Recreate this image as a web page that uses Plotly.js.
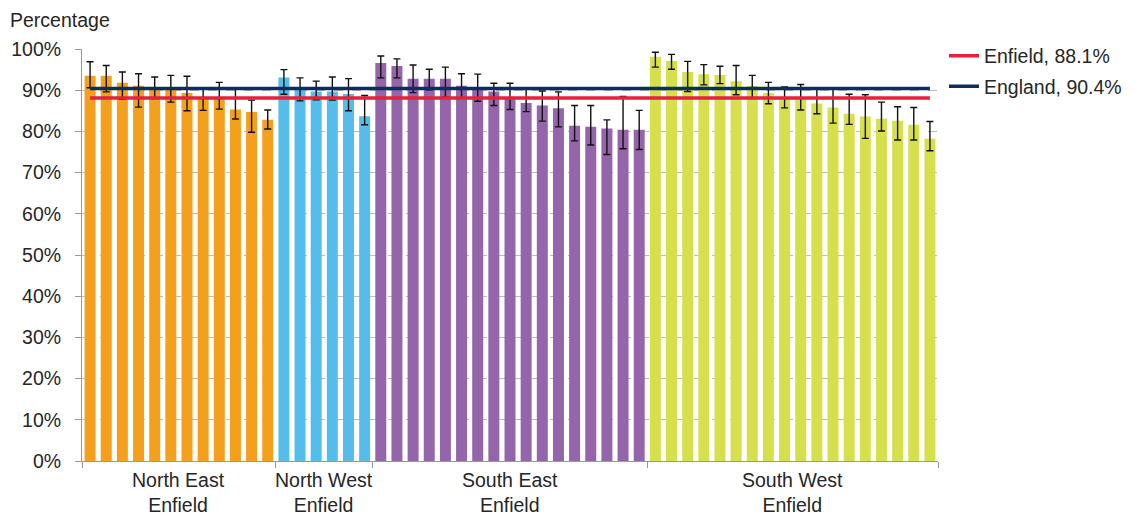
<!DOCTYPE html>
<html><head><meta charset="utf-8">
<script src="https://cdn.plot.ly/plotly-3.0.1.min.js"></script>
<style>html,body{margin:0;padding:0;background:#fff}#chart{width:1139px;height:515px}</style>
</head><body><div id="chart"></div>
<script>
// ---- data ----
const groupLabels = ["North East<br>Enfield", "North West<br>Enfield", "South East<br>Enfield", "South West<br>Enfield"];
const groupColors = ["#F5A01C", "#56BDEA", "#9565AB", "#D6E04D"];

const neValues = [93.5, 93.5, 91.8, 91.1, 90.3, 90.3, 89.3, 88.0, 88.0, 85.3, 84.7, 82.8];
const neUpper  = [96.9, 96.0, 94.4, 94.0, 93.2, 93.6, 93.4, 90.5, 91.9, 90.4, 87.6, 85.2];
const neLower  = [90.6, 89.6, 87.8, 85.9, 88.0, 87.1, 85.0, 85.1, 85.4, 83.0, 79.8, 80.6];

const nwValues = [93.1, 90.5, 89.7, 89.7, 89.1, 83.7];
const nwUpper  = [95.0, 93.0, 92.2, 93.2, 92.8, 88.7];
const nwLower  = [89.0, 87.4, 87.7, 87.6, 85.0, 81.6];

const seValues = [96.6, 95.9, 92.8, 92.8, 92.8, 91.1, 90.4, 89.7, 88.0, 86.9, 86.3, 85.6, 81.4, 81.1, 80.7, 80.4, 80.4];
const seUpper  = [98.3, 97.6, 96.1, 95.1, 95.6, 94.0, 93.9, 91.7, 91.7, 90.5, 89.8, 89.6, 86.3, 86.3, 82.8, 88.5, 85.1];
const seLower  = [93.0, 93.0, 89.4, 90.1, 88.3, 88.1, 87.3, 86.3, 85.3, 84.8, 82.5, 81.1, 77.7, 76.7, 74.4, 75.8, 75.6];

const swValues = [98.1, 97.1, 94.4, 93.9, 93.7, 92.2, 91.0, 89.3, 87.9, 87.9, 86.8, 85.8, 84.3, 83.6, 83.1, 82.6, 81.6, 78.2];
const swUpper  = [99.2, 98.7, 97.0, 96.2, 95.8, 96.0, 93.6, 91.9, 90.8, 91.4, 90.5, 90.5, 89.0, 88.9, 87.1, 86.0, 85.8, 82.4];
const swLower  = [95.6, 95.1, 89.7, 91.3, 91.6, 88.9, 88.0, 86.7, 85.7, 85.2, 84.3, 82.0, 81.7, 78.3, 80.1, 77.9, 77.9, 75.3];

const enfieldValue = 88.1;
const englandValue = 90.4;
const yTickVals = [0, 10, 20, 30, 40, 50, 60, 70, 80, 90, 100];

// ---- build ----
const groups = [
  [neValues, neUpper, neLower],
  [nwValues, nwUpper, nwLower],
  [seValues, seUpper, seLower],
  [swValues, swUpper, swLower]
];
const FONT = "Liberation Sans, Arial, sans-serif";
const TXT = "#262626";
const traces = [];
const annotations = [];
const boundaries = [-0.5];
let start = 0;
groups.forEach((g, gi) => {
  const [vals, up, lo] = g;
  const xs = vals.map((_, i) => start + i);
  traces.push({
    type: "bar", x: xs, y: vals, showlegend: false, hoverinfo: "y",
    marker: {color: groupColors[gi], line: {width: 0}},
    error_y: {type: "data", symmetric: false,
      array: vals.map((v, i) => +(up[i] - v).toFixed(2)),
      arrayminus: vals.map((v, i) => +(v - lo[i]).toFixed(2)),
      color: "#111", thickness: 1.4, width: 3.5}
  });
  annotations.push({
    x: start + (vals.length - 1) / 2, xref: "x", y: 0, yref: "paper",
    yanchor: "top", yshift: -6, text: groupLabels[gi], showarrow: false,
    font: {family: FONT, size: 19.5, color: TXT}, align: "center"
  });
  start += vals.length;
  boundaries.push(start - 0.5);
});
const lastX = start - 1;
traces.push({
  type: "scatter", mode: "lines", x: [0, lastX], y: [enfieldValue, enfieldValue],
  name: "Enfield, " + enfieldValue.toFixed(1) + "%", legendgroup: "a",
  line: {color: "#E5213D", width: 3.5}, hoverinfo: "name"
});
traces.push({
  type: "scatter", mode: "lines", x: [0, lastX], y: [englandValue, englandValue],
  name: "England, " + englandValue.toFixed(1) + "%", legendgroup: "b",
  line: {color: "#0E2C5E", width: 3.5}, hoverinfo: "name"
});

annotations.push({
  x: -74 / 858, xref: "paper", xanchor: "left", y: 1, yref: "paper", yanchor: "middle", yshift: 29,
  text: "Percentage", showarrow: false, font: {family: FONT, size: 19.5, color: TXT}
});

const layout = {
  width: 1139, height: 515,
  margin: {l: 82, r: 199, t: 49, b: 54, pad: 0},
  paper_bgcolor: "#fff", plot_bgcolor: "#fff",
  font: {family: FONT, size: 19.5, color: TXT},
  barmode: "overlay", bargap: 0.32,
  showlegend: true,
  legend: {x: 1.0 + 6 / 858, xanchor: "left", y: 1.03, yanchor: "top", traceorder: "grouped",
    tracegroupgap: 2, font: {family: FONT, size: 19.5, color: TXT}, bgcolor: "rgba(0,0,0,0)"},
  xaxis: {range: [-0.5, lastX + 0.5], tickmode: "array", tickvals: boundaries, showticklabels: false,
    ticks: "outside", ticklen: 6, tickcolor: "#999", showgrid: false, zeroline: false,
    showline: true, linecolor: "#999", linewidth: 1, fixedrange: true},
  yaxis: {range: [0, 100], tickmode: "array", tickvals: yTickVals, ticktext: yTickVals.map(v => v + "%"),
    ticks: "outside", ticklen: 6, tickcolor: "#999", ticklabelstandoff: 10,
    showline: true, linecolor: "#999", linewidth: 1,
    showgrid: true, gridcolor: "#BDBDBD", griddash: "dash", gridwidth: 1, zeroline: false, fixedrange: true},
  annotations: annotations
};
Plotly.newPlot("chart", traces, layout, {displayModeBar: false, staticPlot: true});
</script></body></html>
